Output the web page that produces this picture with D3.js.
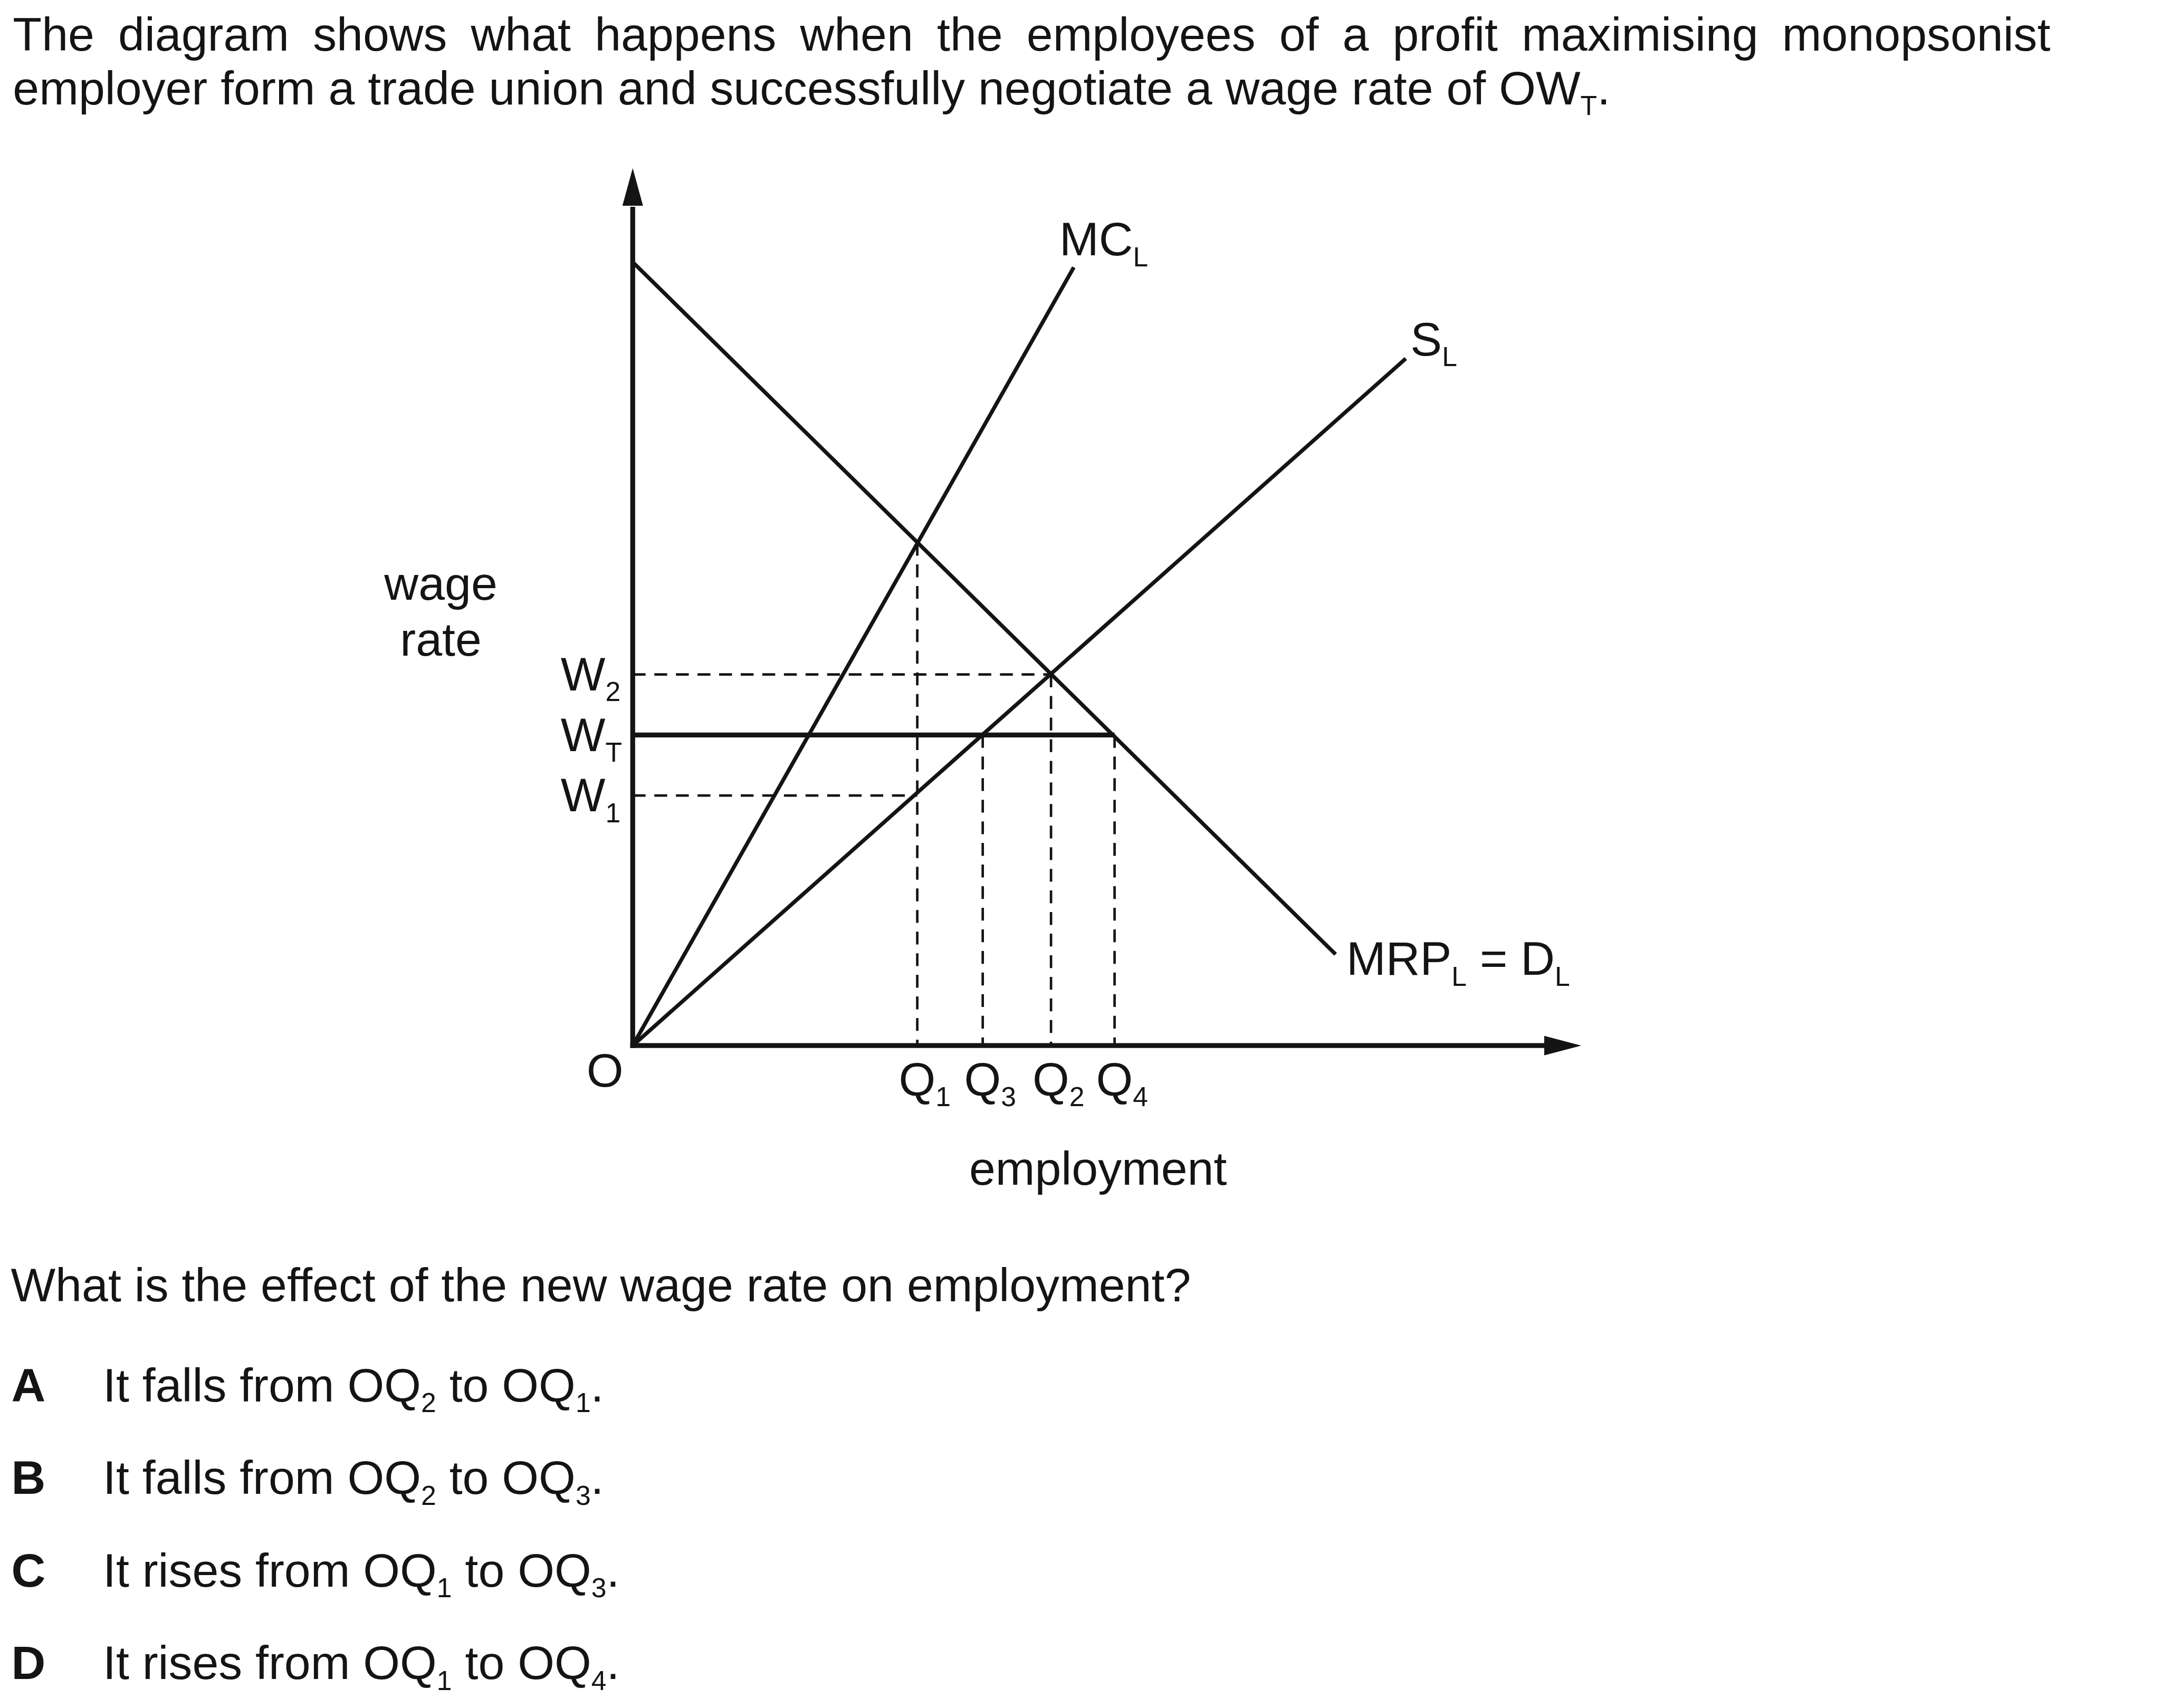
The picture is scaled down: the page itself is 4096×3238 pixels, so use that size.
<!DOCTYPE html>
<html><head><meta charset="utf-8">
<script src="https://cdn.jsdelivr.net/npm/d3@7"></script>
<style>
body{margin:0;background:#fff}
svg{display:block}
text{font-family:"Liberation Sans", Arial, sans-serif; fill:#141414}
</style>
</head><body>
<svg id="c" width="4096" height="3238"></svg>
<script>
// ---------- data ----------
const titleLine1 = "The diagram shows what happens when the employees of a profit maximising monopsonist";
const titleLine2 = ["employer form a trade union and successfully negotiate a wage rate of OW", "T", "."];
const question = "What is the effect of the new wage rate on employment?";
const optionLetters = ["A", "B", "C", "D"];
const optionVerbs = ["falls", "falls", "rises", "rises"];
const optionFrom = ["2", "2", "1", "1"];
const optionTo = ["1", "3", "3", "4"];

const qNames = ["1", "3", "2", "4"];
const qValues = [30.0, 36.9, 44.1, 50.8];
const wNames = ["2", "T", "1"];
const wValues = [42.3, 35.4, 28.5];

const mrpPoints = [[0, 89.3], [74.1, 10.4]];
const mcPoints = [[0, 0], [46.5, 88.7]];
const slPoints = [[0, 0], [81.5, 78.3]];
const peakWage = 57.3;   // MC_L = MRP_L at Q1

const axisLabels = { y: ["wage", "rate"], x: "employment", origin: "O" };

// ---------- setup ----------
const svg = d3.select("#c");
const g = svg.append("g").attr("transform", "scale(0.975)");
const ink = "#141414";
const FS = 92, SUB = 53, SUBDY = 21;

const x = d3.scaleLinear().domain([0, 100]).range([1230, 3074]);
const y = d3.scaleLinear().domain([0, 100]).range([2033, 327]);
const line = d3.line().x(d => x(d[0])).y(d => y(d[1]));

// ---------- title ----------
(function () {
  const words = titleLine1.split(" ");
  const x0 = 25, x1 = 3986, base = 98;
  const nodes = words.map(w => g.append("text").attr("y", base).attr("font-size", FS).text(w));
  const widths = nodes.map(n => n.node().getComputedTextLength());
  const total = d3.sum(widths);
  const gap = (x1 - x0 - total) / (words.length - 1);
  let cx = x0;
  nodes.forEach((n, i) => { n.attr("x", cx); cx += widths[i] + gap; });

  const t2 = g.append("text").attr("x", x0).attr("y", 203).attr("font-size", FS);
  t2.append("tspan").text(titleLine2[0]);
  t2.append("tspan").attr("font-size", SUB).attr("dy", SUBDY).text(titleLine2[1]);
  t2.append("tspan").attr("dy", -SUBDY).text(titleLine2[2]);
})();

// ---------- dashed guides ----------
const dash = g.append("g").attr("fill", "none").attr("stroke", ink)
  .attr("stroke-width", 4.8).attr("stroke-dasharray", "25,17");
const vTops = [peakWage, wValues[1], wValues[0], wValues[1]];
qValues.forEach((q, i) => {
  dash.append("path").attr("d", line([[q, vTops[i]], [q, 0]]));
});
dash.append("path").attr("d", line([[0, wValues[0]], [qValues[2], wValues[0]]]));
dash.append("path").attr("d", line([[0, wValues[2]], [qValues[0], wValues[2]]]));

// ---------- curves ----------
const curves = g.append("g").attr("fill", "none").attr("stroke", ink)
  .attr("stroke-width", 7.5).attr("stroke-linecap", "butt");
[mrpPoints, mcPoints, slPoints].forEach(p => curves.append("path").attr("d", line(p)));

// union wage WT (solid) from axis to MRP at Q4
g.append("path").attr("d", line([[0, wValues[1]], [qValues[3], wValues[1]]]))
  .attr("stroke", ink).attr("stroke-width", 9.5).attr("fill", "none");

// ---------- axes ----------
const AX = 9.5;
const yTipX = x(0), yTipY = y(100), yBase = yTipY + 73;
const xTipX = x(100), xTipY = y(0), xBase = xTipX - 72;
g.append("line").attr("x1", x(0)).attr("x2", x(0)).attr("y1", y(0) + AX / 2).attr("y2", yBase + 2)
  .attr("stroke", ink).attr("stroke-width", AX);
g.append("line").attr("x1", x(0) - AX / 2).attr("x2", xBase + 2).attr("y1", y(0)).attr("y2", y(0))
  .attr("stroke", ink).attr("stroke-width", AX);
g.append("path").attr("d", `M${yTipX},${yTipY}L${yTipX - 20},${yBase}L${yTipX + 20},${yBase}Z`).attr("fill", ink);
g.append("path").attr("d", `M${xTipX},${xTipY}L${xBase},${xTipY - 19}L${xBase},${xTipY + 19}Z`).attr("fill", ink);

// ---------- labels ----------
function subLabel(px, py, main, sub, rest, anchor) {
  const t = g.append("text").attr("x", px).attr("y", py).attr("font-size", FS);
  if (anchor) t.attr("text-anchor", anchor);
  t.append("tspan").text(main);
  t.append("tspan").attr("font-size", SUB).attr("dy", SUBDY).text(sub);
  if (rest) {
    rest.forEach((r, i) => {
      if (i % 2 === 0) t.append("tspan").attr("dy", -SUBDY).text(r);
      else t.append("tspan").attr("font-size", SUB).attr("dy", SUBDY).text(r);
    });
  }
  return t;
}

subLabel(x(mcPoints[1][0]) - 28, y(mcPoints[1][1]) - 23, "MC", "L");
subLabel(x(slPoints[1][0]) + 9, y(slPoints[1][1]) - 6, "S", "L");
subLabel(x(mrpPoints[1][0]) + 21, y(mrpPoints[1][1]) + 40, "MRP", "L", [" = D", "L"]);

wValues.forEach((w, i) => subLabel(1090, y(w) + 31, "W", wNames[i]));
qValues.forEach((q, i) => subLabel(x(q) - 36, 2130, "Q", qNames[i]));
g.append("text").attr("x", 1176).attr("y", 2113).attr("font-size", FS)
  .attr("text-anchor", "middle").text(axisLabels.origin);
g.append("text").attr("x", 857).attr("y", 1166).attr("font-size", FS).attr("text-anchor", "middle").text(axisLabels.y[0]);
g.append("text").attr("x", 857).attr("y", 1275).attr("font-size", FS).attr("text-anchor", "middle").text(axisLabels.y[1]);
g.append("text").attr("x", 1884).attr("y", 2304).attr("font-size", FS).text(axisLabels.x);

// ---------- question & options ----------
g.append("text").attr("x", 21).attr("y", 2530).attr("font-size", FS).text(question);
optionLetters.forEach((L, i) => {
  const by = 2725 + i * 180;
  g.append("text").attr("x", 22).attr("y", by).attr("font-size", FS).attr("font-weight", "bold").text(L);
  subLabel(200, by, `It ${optionVerbs[i]} from OQ`, optionFrom[i], [" to OQ", optionTo[i], "."]);
});
</script>
</body></html>
